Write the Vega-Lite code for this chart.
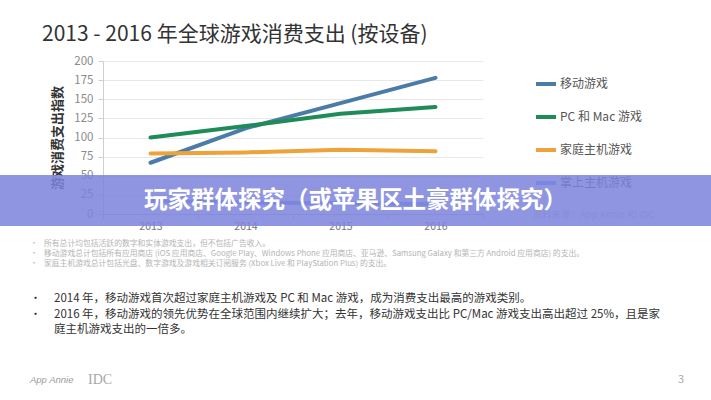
{
  "$schema": "https://vega.github.io/schema/vega-lite/v6.json",
  "background": "white",
  "padding": {"left": 0, "top": 24, "right": 0, "bottom": 0},
  "config": {
    "view": {"stroke": null},
    "font": "Noto Sans CJK SC",
    "text": {"font": "Noto Sans CJK SC"}
  },
  "columns": 1,
  "align": "none",
  "spacing": 0,
  "resolve": {"scale": {"color": "independent", "shape": "independent"}, "legend": {"color": "independent", "shape": "independent"}},
  "concat": [
    {
      "columns": 1,
      "align": "none",
      "spacing": -57,
      "resolve": {"scale": {"color": "independent", "shape": "independent"}, "legend": {"color": "independent", "shape": "independent"}},
      "concat": [
        {
          "spacing": 0,
          "resolve": {"scale": {"color": "independent", "shape": "independent"}, "legend": {"color": "independent", "shape": "independent"}},
          "hconcat": [
            {
              "width": 42, "height": 1,
              "data": {"values": [{}]},
              "mark": {"type": "rect", "opacity": 0},
              "encoding": {"x": {"value": 0}, "x2": {"value": "width"}, "y": {"value": 0}, "y2": {"value": "height"}}
            },
            {
              "width": 380, "height": 153,
              "title": {
                "text": "2013 - 2016 年全球游戏消费支出 (按设备)",
                "anchor": "start", "frame": "group", "dx": -61, "offset": 10,
                "fontSize": 21, "fontWeight": "normal", "color": "#333333", "font": "Noto Sans CJK SC"
              },
              "layer": [
                {
                  "data": {"values": [
                    {"year": 2013, "device": "移动游戏", "value": 67},
                    {"year": 2014, "device": "移动游戏", "value": 112},
                    {"year": 2015, "device": "移动游戏", "value": 145},
                    {"year": 2016, "device": "移动游戏", "value": 178},
                    {"year": 2013, "device": "PC 和 Mac 游戏", "value": 100},
                    {"year": 2014, "device": "PC 和 Mac 游戏", "value": 115},
                    {"year": 2015, "device": "PC 和 Mac 游戏", "value": 131},
                    {"year": 2016, "device": "PC 和 Mac 游戏", "value": 140},
                    {"year": 2013, "device": "家庭主机游戏", "value": 79},
                    {"year": 2014, "device": "家庭主机游戏", "value": 80.5},
                    {"year": 2015, "device": "家庭主机游戏", "value": 84},
                    {"year": 2016, "device": "家庭主机游戏", "value": 82},
                    {"year": 2013, "device": "掌上主机游戏", "value": 17},
                    {"year": 2014, "device": "掌上主机游戏", "value": 15},
                    {"year": 2015, "device": "掌上主机游戏", "value": 14},
                    {"year": 2016, "device": "掌上主机游戏", "value": 13}
                  ]},
                  "mark": {"type": "line", "strokeWidth": 4, "strokeCap": "round"},
                  "encoding": {
                    "x": {
                      "field": "year", "type": "ordinal",
                      "scale": {"type": "band", "paddingInner": 0, "paddingOuter": 0},
                      "axis": {
                        "title": null, "labelAngle": 0, "tickBand": "extent",
                        "domainColor": "#bfbfbf", "tickColor": "#bfbfbf", "tickSize": 4,
                        "labelPadding": 3, "labelColor": "#777777", "labelFontSize": 10.5
                      }
                    },
                    "y": {
                      "field": "value", "type": "quantitative",
                      "scale": {"domain": [0, 200], "nice": false},
                      "axis": {
                        "title": "游戏消费支出指数",
                        "values": [0, 25, 50, 75, 100, 125, 150, 175, 200],
                        "domainColor": "#cfcfcf", "tickColor": "#cfcfcf", "tickSize": 5,
                        "gridColor": "#e8e8e8", "labelPadding": 5,
                        "labelColor": "#8a8a8a", "labelFontSize": 11.5,
                        "titleFontSize": 13, "titleFontWeight": "bold", "titleColor": "#333333",
                        "titlePadding": 9
                      }
                    },
                    "color": {
                      "field": "device", "type": "nominal",
                      "scale": {
                        "domain": ["移动游戏", "PC 和 Mac 游戏", "家庭主机游戏", "掌上主机游戏"],
                        "range": ["#4b7ca8", "#1f8b57", "#eea33a", "#6fa0d8"]
                      },
                      "legend": {
                        "title": null, "orient": "right", "offset": 29, "padding": 11,
                        "symbolType": "stroke", "symbolStrokeWidth": 4, "symbolSize": 400,
                        "labelFontSize": 12, "labelColor": "#555555", "labelOffset": 2,
                        "rowPadding": 13
                      }
                    }
                  }
                },
                {
                  "data": {"values": [{"source": "资料来源：App Annie 和 IDC"}]},
                  "mark": {"type": "point", "opacity": 0},
                  "encoding": {
                    "shape": {
                      "field": "source", "type": "nominal",
                      "legend": {
                        "title": null, "orient": "right", "offset": 40, "padding": 0,
                        "symbolOpacity": 0, "symbolSize": 0, "labelOffset": 0,
                        "labelFontSize": 9.5, "labelColor": "#c4c4c4"
                      }
                    }
                  }
                }
              ]
            }
          ]
        },
        {
          "width": 711, "height": 51,
          "data": {"values": [{"label": "玩家群体探究（或苹果区土豪群体探究）"}]},
          "layer": [
            {
              "mark": {"type": "rect", "color": "#7d83dd", "opacity": 0.85},
              "encoding": {"x": {"value": 0}, "x2": {"value": "width"}, "y": {"value": 0}, "y2": {"value": "height"}}
            },
            {
              "mark": {"type": "text", "color": "white", "fontSize": 23.5, "fontWeight": "bold", "align": "center", "baseline": "middle"},
              "encoding": {"text": {"field": "label"}}
            }
          ]
        }
      ]
    },
    {
      "spacing": 0,
      "hconcat": [
        {
          "width": 30, "height": 1,
          "data": {"values": [{}]},
          "mark": {"type": "rect", "opacity": 0},
          "encoding": {"x": {"value": 0}, "x2": {"value": "width"}, "y": {"value": 0}, "y2": {"value": "height"}}
        },
        {
          "width": 14, "height": 44,
          "data": {"values": [{"line": 1, "t": "•"}, {"line": 2, "t": "•"}, {"line": 3, "t": "•"}]},
          "mark": {"type": "text", "align": "left", "baseline": "middle", "fontSize": 8, "color": "#bbbbbb"},
          "encoding": {
            "x": {"value": 0},
            "y": {"field": "line", "type": "ordinal", "axis": null, "scale": {"type": "band", "paddingInner": 0, "paddingOuter": 0.6}},
            "text": {"field": "t"}
          }
        },
        {
          "width": 640, "height": 44,
          "data": {"values": [
            {"line": 1, "t": "所有总计均包括活跃的数字和实体游戏支出，但不包括广告收入。"},
            {"line": 2, "t": "移动游戏总计包括所有应用商店 (iOS 应用商店、Google Play、Windows Phone 应用商店、亚马逊、Samsung Galaxy 和第三方 Android 应用商店) 的支出。"},
            {"line": 3, "t": "家庭主机游戏总计包括光盘、数字游戏及游戏相关订阅服务 (Xbox Live 和 PlayStation Plus) 的支出。"}
          ]},
          "mark": {"type": "text", "align": "left", "baseline": "middle", "fontSize": 7.8, "color": "#b4b4b4"},
          "encoding": {
            "x": {"value": 0},
            "y": {"field": "line", "type": "ordinal", "axis": null, "scale": {"type": "band", "paddingInner": 0, "paddingOuter": 0.6}},
            "text": {"field": "t"}
          }
        }
      ]
    },
    {
      "spacing": 0,
      "hconcat": [
        {
          "width": 30, "height": 1,
          "data": {"values": [{}]},
          "mark": {"type": "rect", "opacity": 0},
          "encoding": {"x": {"value": 0}, "x2": {"value": "width"}, "y": {"value": 0}, "y2": {"value": "height"}}
        },
        {
          "width": 24, "height": 77,
          "data": {"values": [{"line": 1, "t": "•"}, {"line": 2, "t": "•"}]},
          "mark": {"type": "text", "align": "left", "baseline": "middle", "fontSize": 11, "color": "#333333"},
          "encoding": {
            "x": {"value": 0},
            "y": {"field": "line", "type": "ordinal", "axis": null, "scale": {"type": "band", "domain": [1, 2, 3], "paddingInner": 0, "paddingOuter": 1.0}},
            "text": {"field": "t"}
          }
        },
        {
          "width": 650, "height": 77,
          "data": {"values": [
            {"line": 1, "t": "2014 年，移动游戏首次超过家庭主机游戏及 PC 和 Mac 游戏，成为消费支出最高的游戏类别。"},
            {"line": 2, "t": "2016 年，移动游戏的领先优势在全球范围内继续扩大；去年，移动游戏支出比 PC/Mac 游戏支出高出超过 25%，且是家"},
            {"line": 3, "t": "庭主机游戏支出的一倍多。"}
          ]},
          "mark": {"type": "text", "align": "left", "baseline": "middle", "fontSize": 11.5, "color": "#333333"},
          "encoding": {
            "x": {"value": 0},
            "y": {"field": "line", "type": "ordinal", "axis": null, "scale": {"type": "band", "domain": [1, 2, 3], "paddingInner": 0, "paddingOuter": 1.0}},
            "text": {"field": "t"}
          }
        }
      ]
    },
    {
      "spacing": 0,
      "hconcat": [
        {
          "width": 30, "height": 1,
          "data": {"values": [{}]},
          "mark": {"type": "rect", "opacity": 0},
          "encoding": {"x": {"value": 0}, "x2": {"value": "width"}, "y": {"value": 0}, "y2": {"value": "height"}}
        },
        {
          "width": 58, "height": 53,
          "data": {"values": [{"t": "App Annie"}]},
          "mark": {"type": "text", "align": "left", "baseline": "middle", "fontSize": 9.5, "fontStyle": "italic", "font": "Liberation Sans", "color": "#9a9a9a"},
          "encoding": {"x": {"value": 0}, "text": {"field": "t"}}
        },
        {
          "width": 596, "height": 53,
          "layer": [
            {
              "data": {"values": [{"t": "IDC"}]},
              "mark": {"type": "text", "align": "left", "baseline": "middle", "fontSize": 14, "font": "Liberation Serif", "color": "#a8a8a8"},
              "encoding": {"x": {"value": 0}, "text": {"field": "t"}}
            },
            {
              "data": {"values": [{"t": "3"}]},
              "mark": {"type": "text", "align": "right", "baseline": "middle", "fontSize": 11, "color": "#aaaaaa"},
              "encoding": {"x": {"value": "width"}, "text": {"field": "t"}}
            }
          ]
        }
      ]
    }
  ]
}
